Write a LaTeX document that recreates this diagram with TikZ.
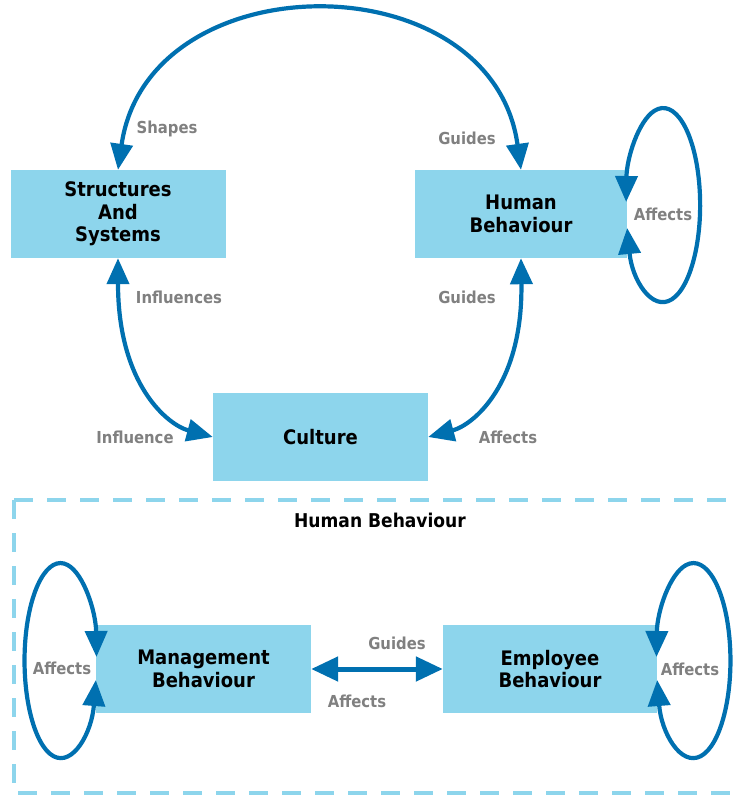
\documentclass[tikz,border=0pt]{standalone}
\usepackage{fontspec}
\setmainfont{DejaVu Sans}[FakeStretch=0.9]
\usetikzlibrary{arrows.meta}
\definecolor{boxfill}{HTML}{8DD5EC}
\definecolor{arrowblue}{HTML}{0070B0}
\definecolor{labelgray}{HTML}{808080}
\begin{document}
\begin{tikzpicture}[x=1pt,y=1pt,
  box/.style={fill=boxfill, draw=none, minimum width=215pt, minimum height=88pt,
    inner sep=0pt, align=center, font=\bfseries\fontsize{20}{22.5}\selectfont},
  lbl/.style={text=labelgray, inner sep=0pt, font=\bfseries\fontsize{16.5}{18}\selectfont},
  ttl/.style={text=black, inner sep=0pt, font=\bfseries\fontsize{19}{20}\selectfont},
  conn/.style={draw=arrowblue, line width=4.2pt,
    {Triangle[length=26pt,width=22pt]}-{Triangle[length=26pt,width=22pt]}},
  conn2/.style={draw=arrowblue, line width=5pt,
    {Triangle[length=27pt,width=24pt]}-{Triangle[length=27pt,width=24pt]}},
  dashbox/.style={draw=boxfill, line width=4pt, dash pattern=on 19pt off 14pt}
]
\useasboundingbox (0,0) rectangle (736,-796);

% dashed frame
\draw[dashbox] (14,-500) -- (14,-793) -- (760,-793) (14,-500) -- (760,-500);
\node[ttl] (title) at (380,-520) {Human Behaviour};

% boxes
\node[box] (ss) at (118,-214) {Structures\\And\\Systems};
\node[box, minimum width=212pt] (hb) at (521,-214) {Human\\Behaviour};
\node[box] (cu) at (320.5,-437) {Culture};
\node[box] (mb) at (203.5,-669) {Management\\Behaviour};
\node[box, minimum width=214pt] (eb) at (550,-669) {Employee\\Behaviour};

% connectors
\draw[conn] (ss.north) .. controls (148,40) and (492,40) .. (hb.north);
\draw[conn] (ss.south) .. controls (118,-385) and (168,-425) .. (cu.west);
\draw[conn] (hb.south) .. controls (523,-385) and (473,-425) .. (cu.east);
\draw[conn2] (mb.east) -- (eb.west);

% self loops
\draw[conn] ([yshift=-14pt]hb.east) arc[start angle=193.7, end angle=538.2, x radius=37pt, y radius=97pt];
\draw[conn] ([yshift=-11pt]mb.west) arc[start angle=-11.5, end angle=-357.9, x radius=36pt, y radius=97.5pt];
\draw[conn] ([yshift=-11pt]eb.east) arc[start angle=191.5, end angle=537.9, x radius=37pt, y radius=97.5pt];

% labels
\node[lbl] (l1) at (167,-129) {Shapes};
\node[lbl] (l2) at (467,-138) {Guides};
\node[lbl] (l3) at (179,-297) {Influences};
\node[lbl] (l4) at (467,-297) {Guides};
\node[lbl] (l5) at (135,-437) {Influence};
\node[lbl] (l6) at (508,-437) {Affects};
\node[lbl] (l7) at (663,-214) {Affects};
\node[lbl] (l8) at (397,-643) {Guides};
\node[lbl] (l9) at (357,-701) {Affects};
\node[lbl] (l10) at (62,-668) {Affects};
\node[lbl] (l11) at (690,-669) {Affects};
\end{tikzpicture}
\end{document}
